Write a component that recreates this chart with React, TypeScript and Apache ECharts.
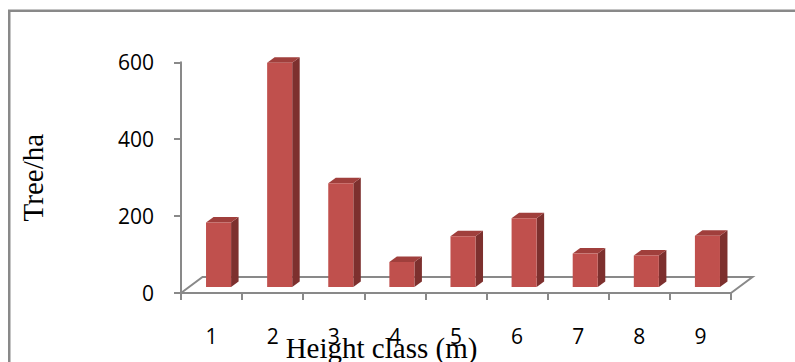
import React, { useEffect, useRef } from "react";
import * as echarts from "echarts";

// Height classes (m) and tree density (trees per hectare)
const heightClasses = ["1", "2", "3", "4", "5", "6", "7", "8", "9"];
const treesPerHa = [168, 583, 270, 65, 132, 179, 87, 82, 133];
const yTicks = { min: 0, max: 600, interval: 200 };

const AXIS_GRAY = "#898989";
const FRONT = "#C0504D";
const TOP = "#A03F3C";
const SIDE = "#7D302E";

export default function App() {
  const ref = useRef<HTMLDivElement>(null);

  useEffect(() => {
    if (!ref.current) return;
    const chart = echarts.init(ref.current, undefined, { renderer: "svg" });

    // floor depth vector and column depth vector, as fractions of a category band
    const floorDepth = [21.5 / 61.1, -16 / 61.1];
    const barShift = [7 / 61.1, -6 / 61.1];
    const barDepth = [7.5 / 61.1, -5.5 / 61.1];
    const barWidthRatio = 0.41;

    const floorItem = (params: any, api: any) => {
      const bw = api.size([1, 0])[0];
      const c0 = api.coord([0, 0]);
      const left = c0[0] - bw / 2;
      const right = left + bw * heightClasses.length;
      const y0 = c0[1];
      const dx = bw * floorDepth[0];
      const dy = bw * floorDepth[1];
      return {
        type: "polyline",
        shape: {
          points: [
            [left, y0],
            [left + dx, y0 + dy],
            [right + dx, y0 + dy],
            [right, y0],
          ],
        },
        style: { stroke: AXIS_GRAY, lineWidth: 2, fill: "none" },
      };
    };

    const barItem = (params: any, api: any) => {
      const idx = api.value(0);
      const val = api.value(1);
      const bw = api.size([1, 0])[0];
      const top = api.coord([idx, val]);
      const base = api.coord([idx, 0]);
      const w = bw * barWidthRatio;
      const sx = bw * barShift[0];
      const sy = bw * barShift[1];
      const dx = bw * barDepth[0];
      const dy = bw * barDepth[1];
      const x0 = top[0] - w / 2 + sx;
      const x1 = x0 + w;
      const yT = top[1] + sy;
      const yB = base[1] + sy;
      return {
        type: "group",
        children: [
          {
            type: "polygon",
            shape: {
              points: [
                [x1, yB],
                [x1, yT],
                [x1 + dx, yT + dy],
                [x1 + dx, yB + dy],
              ],
            },
            style: { fill: SIDE },
          },
          {
            type: "polygon",
            shape: {
              points: [
                [x0, yT],
                [x1, yT],
                [x1 + dx, yT + dy],
                [x0 + dx, yT + dy],
              ],
            },
            style: { fill: TOP },
          },
          {
            type: "rect",
            shape: { x: x0, y: yT, width: w, height: yB - yT },
            style: { fill: FRONT },
          },
        ],
      };
    };

    chart.setOption({
      animation: false,
      backgroundColor: "#ffffff",
      grid: { left: 181, top: 62.3, width: 550, bottom: 69 },
      xAxis: {
        type: "category",
        data: heightClasses,
        axisLine: { show: true, lineStyle: { color: AXIS_GRAY, width: 2 } },
        axisTick: { show: true, length: 7, lineStyle: { color: AXIS_GRAY, width: 2 } },
        axisLabel: {
          margin: 32,
          color: "#000",
          fontFamily: "Open Sans",
          fontSize: 21,
        },
        splitLine: { show: false },
      },
      yAxis: {
        type: "value",
        min: yTicks.min,
        max: yTicks.max,
        interval: yTicks.interval,
        name: "Tree/ha",
        nameLocation: "middle",
        nameGap: 134,
        nameRotate: 90,
        nameTextStyle: {
          fontFamily: "Liberation Serif",
          fontSize: 29,
          color: "#000",
        },
        axisLine: { show: true, lineStyle: { color: AXIS_GRAY, width: 2 } },
        axisTick: { show: true, length: 7, lineStyle: { color: AXIS_GRAY, width: 2 } },
        axisLabel: {
          margin: 27,
          color: "#000",
          fontFamily: "Open Sans",
          fontSize: 21,
        },
        splitLine: { show: false },
      },
      graphic: [
        {
          type: "rect",
          shape: { x: 9.25, y: 10.75, width: 900, height: 500 },
          style: { fill: "none", stroke: AXIS_GRAY, lineWidth: 2.5 },
          silent: true,
        },
        {
          type: "text",
          x: 381.5,
          y: 348,
          style: {
            text: "Height class (m)",
            fontFamily: "Liberation Serif",
            fontSize: 29,
            fill: "#000",
            textAlign: "center",
            textVerticalAlign: "middle",
          },
        },
      ],
      series: [
        {
          type: "custom",
          name: "floor",
          renderItem: floorItem,
          data: [[0, 0]],
          z: 1,
          silent: true,
        },
        {
          type: "custom",
          name: "Tree/ha",
          renderItem: barItem,
          data: treesPerHa.map((v, i) => [i, v]),
          encode: { x: 0, y: 1 },
          z: 2,
        },
      ],
    });

    return () => chart.dispose();
  }, []);

  return (
    <div
      ref={ref}
      style={{ position: "absolute", left: 0, top: 0, width: 795, height: 362 }}
    />
  );
}
